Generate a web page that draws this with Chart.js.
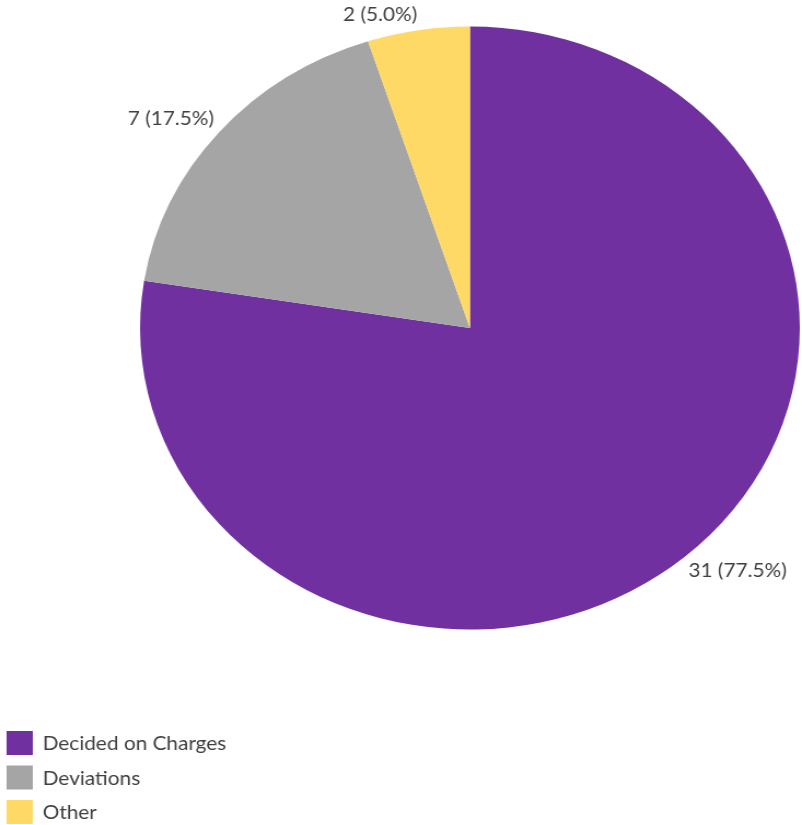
<!DOCTYPE html>
<html>
<head>
<meta charset="utf-8">
<script src="https://cdn.jsdelivr.net/npm/chart.js@4.4.0/dist/chart.umd.min.js"></script>
<style>
html, body { margin: 0; padding: 0; background: #fff; overflow: hidden; }
#chart { display: block; width: 802px !important; height: 825px !important; }
</style>
</head>
<body>
<canvas id="chart" width="733" height="825" style="width:802px;height:825px"></canvas>
<script>
const categories = ["Decided on Charges", "Deviations", "Other"];
const counts = [31, 7, 2];

const palette = ["#7030A0", "#A5A5A5", "#FFD966"];
const textColor = "#404040";
const fontFamily = "Lato, 'Open Sans', sans-serif";

// value + percent labels just outside each slice
const outsideLabels = {
    id: 'outsideLabels',
    afterDatasetsDraw(chart) {
        const ctx = chart.ctx;
        const total = counts.reduce((a, b) => a + b, 0);
        const meta = chart.getDatasetMeta(0);
        ctx.save();
        ctx.font = "19px " + fontFamily;
        ctx.fillStyle = textColor;
        meta.data.forEach((arc, i) => {
            const p = arc.getProps(['x', 'y', 'startAngle', 'endAngle', 'outerRadius'], true);
            const mid = (p.startAngle + p.endAngle) / 2;
            const r = p.outerRadius + 6;
            const dx = Math.cos(mid), dy = Math.sin(mid);
            ctx.textAlign = dx < 0 ? 'right' : 'left';
            ctx.textBaseline = dy < 0 ? 'bottom' : 'top';
            let txt = counts[i] + " (" + (counts[i] / total * 100).toFixed(1) + "%)";
            ctx.fillText(txt, p.x + dx * r, p.y + dy * r);
        });
        ctx.restore();
    }
};

// legend stacked at the bottom left
const stackedLegend = {
    id: 'stackedLegend',
    afterDraw(chart) {
        const ctx = chart.ctx;
        ctx.save();
        ctx.font = "19px " + fontFamily;
        ctx.textAlign = 'left';
        ctx.textBaseline = 'middle';
        categories.forEach((name, i) => {
            const cy = 743 + i * 34.5;
            ctx.fillStyle = palette[i];
            ctx.fillRect(6, cy - 12, 24, 24);
            ctx.fillStyle = textColor;
            ctx.fillText(name, 39, cy + 1);
        });
        ctx.restore();
    }
};

var myChart = new Chart(document.getElementById('chart').getContext('2d'), {
    type: 'pie',
    data: {
        labels: categories,
        datasets: [{
            data: counts,
            backgroundColor: palette,
            borderWidth: 0
        }]
    },
    options: {
        responsive: false,
        devicePixelRatio: 1,
        animation: false,
        layout: {
            padding: { left: 128, right: 2, top: 26.5, bottom: 195.5 }
        },
        plugins: {
            legend: { display: false },
            tooltip: { enabled: false }
        }
    },
    plugins: [outsideLabels, stackedLegend]
});
</script>
</body>
</html>
